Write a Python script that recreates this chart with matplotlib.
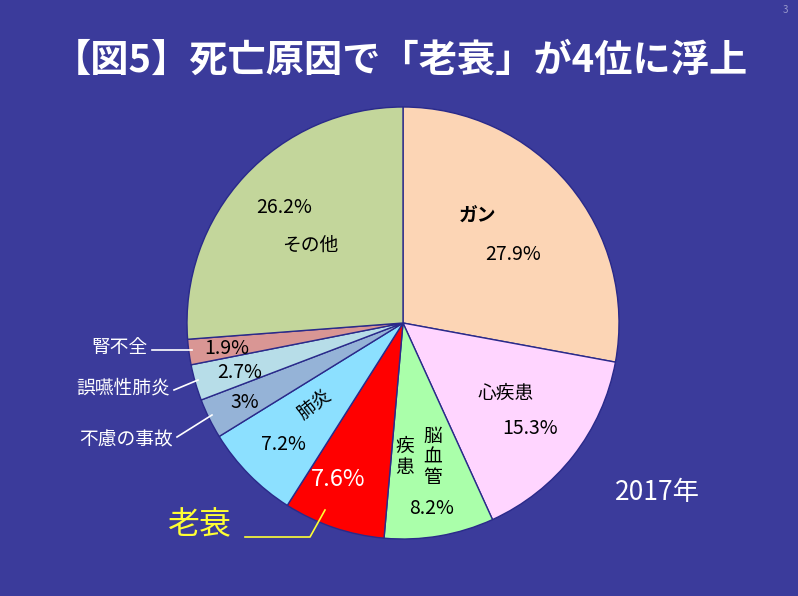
import matplotlib
matplotlib.use("Agg")
import matplotlib.pyplot as plt

plt.rcParams['font.family'] = ['Noto Sans CJK JP', 'DejaVu Sans']

categories = ["ガン", "心疾患", "脳血管疾患", "老衰", "肺炎", "不慮の事故", "誤嚥性肺炎", "腎不全", "その他"]
values = [27.9, 15.3, 8.2, 7.6, 7.2, 3.0, 2.7, 1.9, 26.2]
pct_labels = ["27.9%", "15.3%", "8.2%", "7.6%", "7.2%", "3%", "2.7%", "1.9%", "26.2%"]
colors = ["#fcd5b5", "#ffd5ff", "#aaffaa", "#ff0000", "#8ce0ff", "#95b3d7", "#b7dde8", "#d99694", "#c3d69b"]

W, H = 798, 596
bg = "#3b3b9b"
fig = plt.figure(figsize=(W/100, H/100), dpi=100, facecolor=bg)

def px(x, y):
    return x / W, 1 - y / H

cx, cy, r = 403, 323, 216
ax = fig.add_axes([(cx - r)/W, 1 - (cy + r)/H, 2*r/W, 2*r/H])
ax.pie(values, colors=colors, startangle=90, counterclock=False, radius=1,
       wedgeprops=dict(edgecolor="#2a2a8a", linewidth=1))
ax.set_xlim(-1, 1); ax.set_ylim(-1, 1)
ax.set_aspect('auto')
ax.axis('off')

def t(x, y, s, size=13, color="black", **kw):
    fig.text(*px(x, y), s, fontsize=size, color=color, ha=kw.pop('ha', 'center'), va=kw.pop('va', 'center'), **kw)

t(400, 60, "【図5】死亡原因で「老衰」が4位に浮上", size=27.5, color="white", weight="bold")
t(785, 10, "3", size=7, color="#9999cc")
t(478, 215, "ガン", size=13.5, weight="bold")
t(513, 255, pct_labels[0], size=14)
t(506, 393, "心疾患", size=13.5)
t(530, 428, pct_labels[1], size=14)
t(433, 457, "脳\n血\n管", size=13.5, linespacing=1.0)
t(405, 457, "疾\n患", size=13.5, linespacing=1.0)
t(432, 508, pct_labels[2], size=14)
t(338, 480, pct_labels[3], size=17, color="white")
t(315, 405, "肺炎", size=13.5, rotation=38)
t(283, 445, pct_labels[4], size=14)
t(245, 402, pct_labels[5], size=14)
t(240, 373, pct_labels[6], size=14)
t(227, 348, pct_labels[7], size=14)
t(284, 208, pct_labels[8], size=14)
t(310, 245, "その他", size=13.5)
t(657, 493, "2017年", size=19, color="white")

t(148, 348, "腎不全", size=13.5, color="white", ha="right")
t(170, 388, "誤嚥性肺炎", size=13.5, color="white", ha="right")
t(173, 440, "不慮の事故", size=13.5, color="white", ha="right")
t(200, 525, "老衰", size=23, color="#ffff33")

def line(pts, color="white"):
    xs = [p[0]/W for p in pts]; ys = [1 - p[1]/H for p in pts]
    fig.add_artist(plt.Line2D(xs, ys, color=color, lw=1.2, transform=fig.transFigure))

line([(152, 350), (192, 350)])
line([(174, 390), (198, 380)])
line([(177, 437), (212, 415)])
line([(245, 537), (310, 537), (325, 510)], color="#ffff33")

fig.savefig("out.png", dpi=100, facecolor=bg)
